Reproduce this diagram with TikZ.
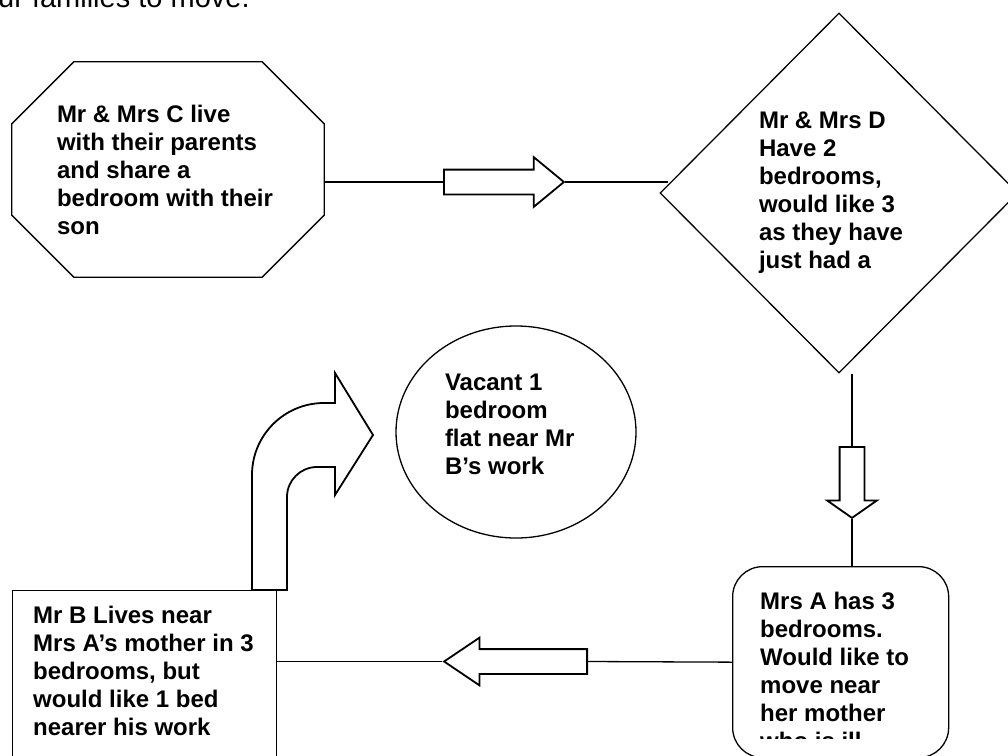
\documentclass[tikz,border=0pt]{standalone}
\usepackage{fontspec}
\setmainfont{Liberation Sans}
\usetikzlibrary{positioning,shapes.geometric,shapes.arrows}

\begin{document}
\begin{tikzpicture}[x=1pt, y=-1pt,
    shapeline/.style={draw, line width=1.3pt},
    famtext/.style={font=\bfseries\fontsize{24}{28}\selectfont, align=flush left, inner sep=0pt},
    blockarrow/.style={single arrow, draw, line width=1.8pt, inner xsep=0pt,
                       inner ysep=11.5pt, single arrow head extend=12.5pt},
    conn/.style={line width=1.3pt}]
\useasboundingbox (0,0) rectangle (1008,755);
% Intro line, cut at the top
\node[font=\fontsize{29}{34}\selectfont, inner sep=0pt, anchor=base west] (intro) at (-2,7) {ur families to move.};
% Mr & Mrs C: octagon
\node[famtext, text width=222pt, minimum width=312pt, minimum height=215pt] (famC) at (168,169.5)
  {Mr \& Mrs C live\\with their parents\\and share a\\bedroom with their\\son};
\draw[shapeline] ([xshift=62pt]famC.north west) -- ([xshift=-62pt]famC.north east)
  -- ([yshift=-62pt]famC.north east) -- ([yshift=62pt]famC.south east)
  -- ([xshift=-62pt]famC.south east) -- ([xshift=62pt]famC.south west)
  -- ([yshift=62pt]famC.south west) -- ([yshift=-62pt]famC.north west) -- cycle;
% Mr & Mrs D: diamond
\node[diamond, shapeline, famtext, text width=160pt, minimum width=358pt, minimum height=360pt] (famD) at (839,193)
  {Mr \& Mrs D\\Have 2\\bedrooms,\\would like 3\\as they have\\just had a};
% Vacant flat
\node[ellipse, shapeline, famtext, text width=142pt, text depth=100pt, minimum width=240pt, minimum height=212pt] (vacant) at (516,432)
  {Vacant 1\\bedroom\\flat near Mr\\B’s work};
% Mrs A
\node[shapeline, rounded corners=30pt, minimum width=216pt, minimum height=191pt, anchor=north west] (famA) at (732,566) {};
\begin{scope}
\clip (732,566) rectangle (948,738);
\node[famtext, anchor=north west] (txtA) at (760,591.5)
  {Mrs A has 3\\bedrooms.\\Would like to\\move near\\her mother\\who is ill};
\end{scope}
% Mr B
\node[shapeline, minimum width=264pt, minimum height=190pt, anchor=north west] (famB) at (12,590) {};
\node[famtext, anchor=north west] (txtB) at (33,606)
  {Mr B Lives near\\Mrs A’s mother in 3\\bedrooms, but\\would like 1 bed\\nearer his work};
% Block arrows
\node[blockarrow, single arrow tip angle=79, minimum height=120pt, anchor=tail] (arrowCD) at (443,182) {};
\node[blockarrow, single arrow tip angle=110, minimum height=71pt, rotate=-90, anchor=tail] (arrowDA) at (852,446) {};
\node[blockarrow, single arrow tip angle=68, minimum height=143pt, single arrow head extend=11.5pt,
      rotate=180, anchor=tail] (arrowAB) at (588,661.5) {};
% Connectors
\draw[conn] (arrowCD.tail -| famC.east) -- (arrowCD.tail);
\draw[conn, shorten >=-9pt] (arrowCD.tip) -- (arrowCD.tip -| famD.west);
\draw[conn] (arrowDA.tail |- famD.south) -- (arrowDA.tail);
\draw[conn] (arrowDA.tip) -- (arrowDA.tip |- famA.north);
\draw[conn] (famA.west) -- (arrowAB.tail);
\draw[conn] (arrowAB.tip) -- (arrowAB.tip -| famB.east);
% Bent arrow from Mr B up to the vacant flat
\draw[line width=1.8pt] (252,590) -- (252,475) arc[start angle=180, end angle=270, radius=72] -- (335,403)
  -- (335,373) -- (373,435) -- (335,495) -- (335,467) -- (317,467)
  arc[start angle=270, end angle=180, radius=30] -- (287,590) -- cycle;
\end{tikzpicture}
\end{document}
